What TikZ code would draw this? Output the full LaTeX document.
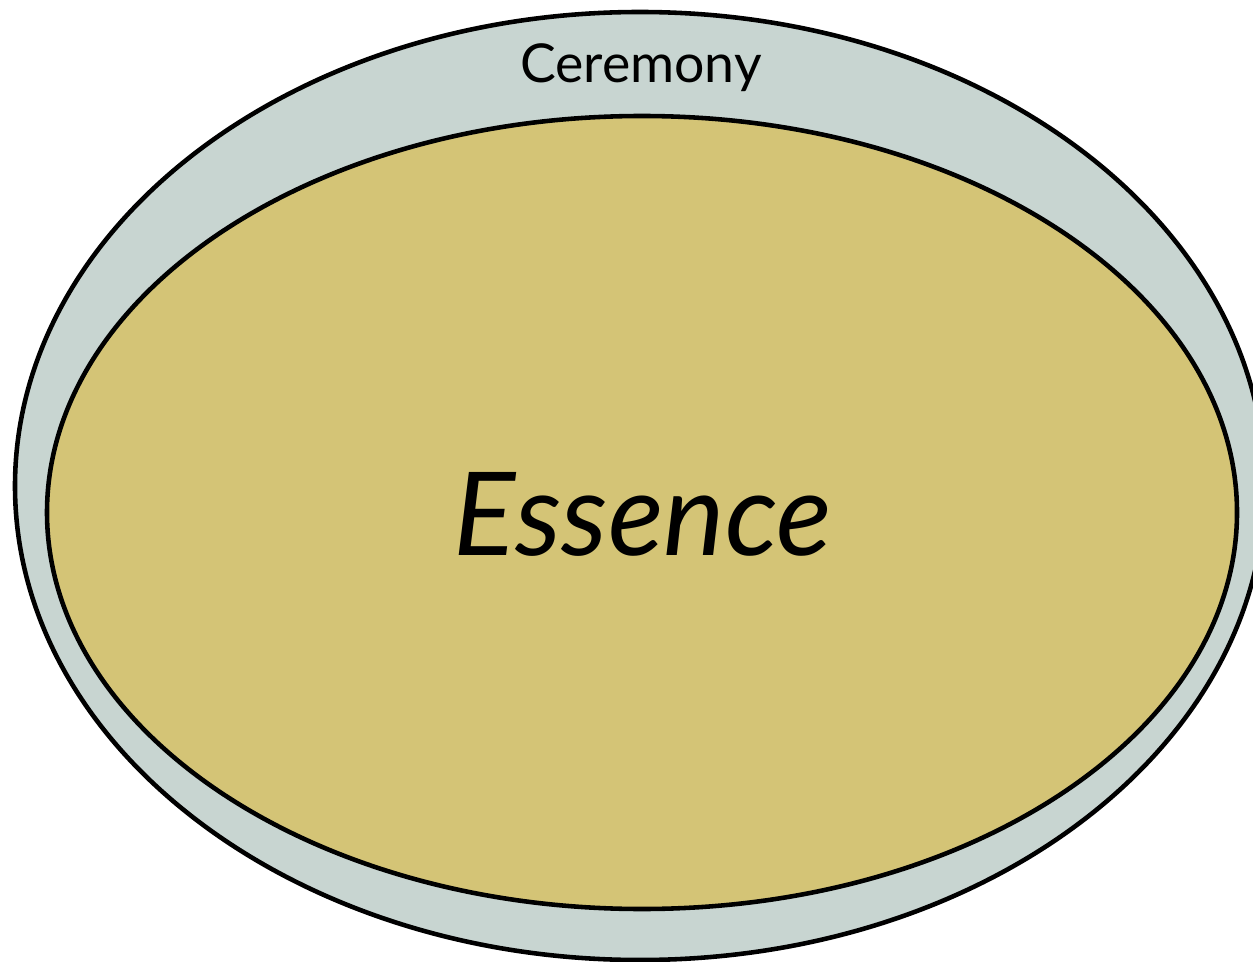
\documentclass[tikz,border=0pt]{standalone}
\usepackage{fontspec}
\setmainfont{Lato}
\usetikzlibrary{positioning}
\definecolor{RitualGrey}{HTML}{C8D5D1}
\definecolor{CoreGold}{HTML}{D4C476}
\definecolor{Ink}{HTML}{000000}

\begin{document}
\begin{tikzpicture}[x=0.02cm,y=-0.02cm,
    rim/.style={draw=Ink,line width=2.6pt},
    label/.style={text=Ink,inner sep=0pt}]
  \useasboundingbox (0,0) rectangle (1253,962);
  \clip (0,0) rectangle (1253,962);
  % outer ring and inner core
  \filldraw[rim,fill=RitualGrey] (640,486) ellipse [x radius=625,y radius=474];
  \filldraw[rim,fill=CoreGold] (642,512.5) ellipse [x radius=595,y radius=396.5];
  \node[label,font=\fontsize{30.5}{36}\selectfont] (ceremony) at (641,68) {Ceremony};
  \node[label,font=\fontsize{66}{76}\selectfont\itshape] (essence) at (643,514) {Essence};
\end{tikzpicture}
\end{document}
